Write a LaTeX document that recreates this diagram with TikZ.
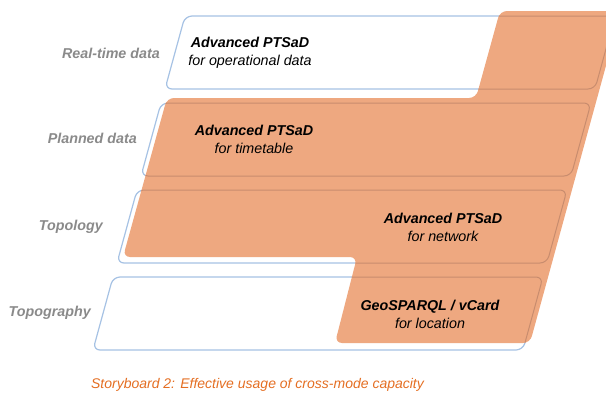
\documentclass[tikz,border=0pt]{standalone}
\usepackage{fontspec}
\setmainfont{Liberation Sans}
\usepackage{tikz}
\usetikzlibrary{positioning}
\definecolor{bandblue}{RGB}{166,194,228}
\definecolor{bandbrown}{RGB}{200,140,110}
\definecolor{capfill}{RGB}{238,168,128}
\definecolor{capred}{RGB}{228,110,34}
\definecolor{lblgray}{RGB}{138,138,138}
% one slanted layer band, #1 = layer index from the top
\newcommand{\layerband}[1]{({165-24*#1},{89+87*#1}) -- ++(430,0) -- ++(20,-73) -- ++(-430,0) -- cycle}
% the orange area covered by the standards
\newcommand{\capacityarea}{(500,11) -- (476,98) -- (167,98) -- (123,257) -- (357,257) -- (335,343) -- (530,343) -- (621,11) -- cycle}

\begin{document}
\begin{tikzpicture}[
  x=1pt, y=-1pt,
  layerlabel/.style={anchor=east, font=\fontsize{14.3}{18}\selectfont\bfseries\itshape, text=lblgray, inner sep=0pt},
  stdtext/.style={align=center, font=\fontsize{14.3}{18}\selectfont\itshape, inner sep=0pt},
  captiontext/.style={font=\fontsize{14}{17}\selectfont\itshape, text=capred, inner sep=0pt}
]
\useasboundingbox (0,0) rectangle (606,394);

% layer bands
\foreach \i in {0,...,3}
  \draw[bandblue, line width=1.2pt, fill=white, rounded corners=7pt] \layerband{\i};

% covered area
\fill[capfill, rounded corners=7pt] \capacityarea;
\begin{scope}
  \clip[rounded corners=7pt] \capacityarea;
  \foreach \i in {0,...,3}
    \draw[bandbrown, line width=1pt, rounded corners=7pt] \layerband{\i};
\end{scope}

% layer names
\node[layerlabel] (lrt)   at (160,53)  {Real-time data};
\node[layerlabel] (lplan) at (137,138) {Planned data};
\node[layerlabel] (ltopo) at (103,227) {Topology};
\node[layerlabel] (lgeo)  at (91,313)  {Topography};

% standards per layer
\node[stdtext] (srt)   at (250,53)    {\textbf{Advanced PTSaD}\\for operational data};
\node[stdtext] (splan) at (254,139)   {\textbf{Advanced PTSaD}\\for timetable};
\node[stdtext] (stopo) at (443,227)   {\textbf{Advanced PTSaD}\\for network};
\node[stdtext] (sgeo)  at (430,314.5) {\textbf{GeoSPARQL / vCard}\\for location};

\node[captiontext] (cap) at (257.5,385) {Storyboard 2: Effective usage of cross-mode capacity};
\end{tikzpicture}
\end{document}
